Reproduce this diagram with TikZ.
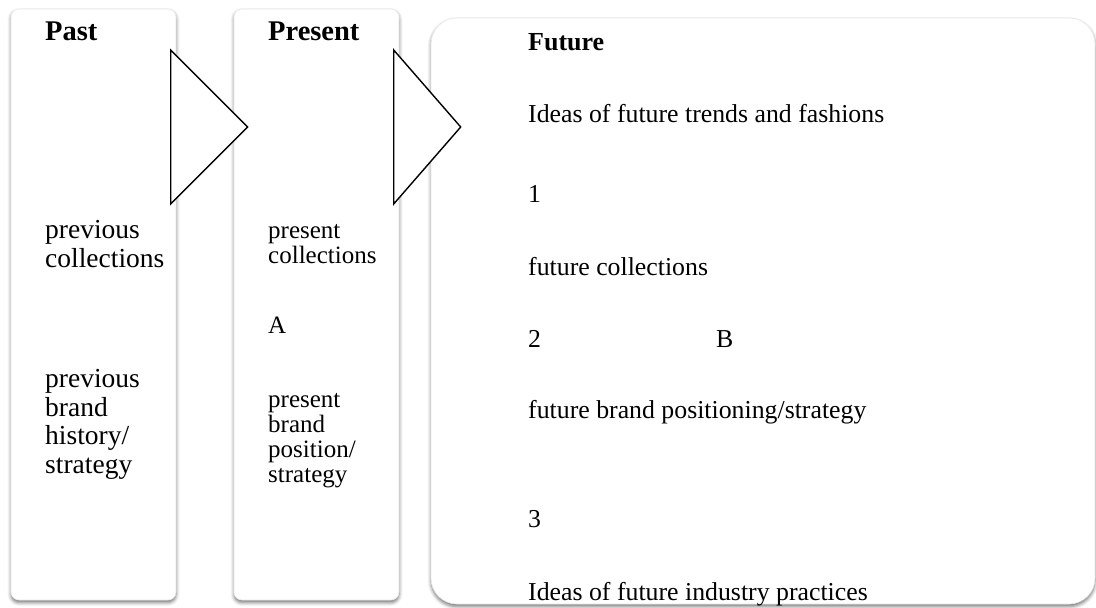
\documentclass[tikz,border=0pt]{standalone}
\usepackage{fontspec}
\setmainfont{Liberation Serif}
\usetikzlibrary{positioning,shapes.geometric,shadows.blur}

\begin{document}
\begin{tikzpicture}[x=1pt,y=-1pt,
		panel/.style={draw=gray!18, fill=white, line width=0.6pt, inner sep=0pt,
			blur shadow={shadow xshift=0pt, shadow yshift=-2.5pt,
				shadow blur radius=3.5pt, shadow opacity=55}},
		wedge/.style={isosceles triangle, isosceles triangle stretches,
			draw=black, fill=white, line width=1.4pt, inner sep=0pt,
			anchor=lower side},
		head/.style={anchor=base west, inner sep=0pt,
			font=\fontsize{28.5}{30}\selectfont\bfseries},
		pastlbl/.style={anchor=base west, inner sep=0pt, align=left,
			font=\fontsize{27.5}{28.5}\selectfont},
		nowlbl/.style={anchor=base west, inner sep=0pt, align=left,
			font=\fontsize{25}{25}\selectfont},
		futlbl/.style={anchor=base west, inner sep=0pt,
			font=\fontsize{25.8}{27}\selectfont}
		]
		\useasboundingbox (0,0) rectangle (1096,608);
		
		% Three time panels
		\node[panel, rounded corners=8pt, minimum width=165pt, minimum height=591pt]
			(past)    at (93.5,304.5) {};
		\node[panel, rounded corners=8pt, minimum width=165pt, minimum height=591pt]
			(present) at (316.5,304.5) {};
		\node[panel, rounded corners=26pt, minimum width=664pt, minimum height=586pt]
			(future)  at (763,311) {};
		
		% Open wedges between panels (base on the left, tip to the right)
		\node[wedge, minimum width=154pt, minimum height=77pt] (stepA) at (170,127) {};
		\node[wedge, minimum width=154pt, minimum height=67pt] (stepB) at (393,127) {};
		
		% Past (multi-line nodes sit on the baseline of their last line)
		\node[head]    (pastT)     at (45,40)   {Past};
		\node[pastlbl] (prevcoll)  at (45,267)  {previous\\collections};
		\node[pastlbl] (prevbrand) at (45,473)  {previous\\brand\\history/\\strategy};
		
		% Present
		\node[head]    (presT)     at (268,40)  {Present};
		\node[nowlbl]  (nowcoll)   at (268,263) {present\\collections};
		\node[nowlbl]  (markA)     at (268,333) {A};
		\node[nowlbl]  (nowbrand)  at (268,482) {present\\brand\\position/\\strategy};
		
		% Future
		\node[head, font=\fontsize{26}{28}\selectfont\bfseries] (futT) at (528,50) {Future};
		\node[futlbl] (trends)    at (528,122) {Ideas of future trends and fashions};
		\node[futlbl] (numA)      at (528,202) {1};
		\node[futlbl] (futcoll)   at (528,275) {future collections};
		\node[futlbl] (numB)      at (528,347) {2};
		\node[futlbl] (markB)     at (716,347) {B};
		\node[futlbl] (futbrand)  at (528,418) {future brand positioning/strategy};
		\node[futlbl] (numC)      at (528,527) {3};
		\node[futlbl] (practices) at (528,600) {Ideas of future industry practices};
	\end{tikzpicture}
\end{document}
